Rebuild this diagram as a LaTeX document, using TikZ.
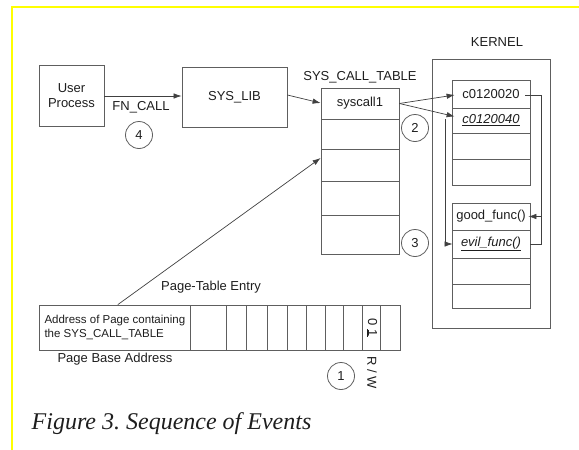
\documentclass[tikz,border=0pt]{standalone}
\usepackage{fontspec}
\setmainfont{Liberation Sans}
\newfontfamily\captionfont{Liberation Serif}
\usetikzlibrary{arrows.meta}
\frenchspacing
\definecolor{linegray}{HTML}{5E5E5E}
\definecolor{inkblack}{HTML}{1E1E1E}
\definecolor{frameyellow}{HTML}{FFFF00}
\tikzset{
	box/.style={draw=linegray,line width=0.8pt,inner sep=0pt,text=inkblack,font=\fontsize{13}{15}\selectfont},
	cell/.style={box,minimum width=78pt},
	tag/.style={inner sep=0pt,text=inkblack,font=\fontsize{13}{15}\selectfont},
	stepnum/.style={circle,draw=linegray,line width=0.8pt,minimum size=27pt,inner sep=0pt,text=inkblack,font=\fontsize{13}{15}\selectfont},
	link/.style={draw=inkblack!85,line width=0.7pt,-{Latex[length=8pt,width=5.5pt]}},
	wire/.style={draw=inkblack!85,line width=0.7pt}
}

\begin{document}
\begin{tikzpicture}[x=1pt,y=-1pt]
	\useasboundingbox (0,0) rectangle (579,450);
	\draw[frameyellow,line width=2.4pt] (12,450) -- (12,7) -- (579,7);

	% user side
	\node[box,minimum width=65pt,minimum height=61pt,align=center] (user) at (71.5,95.5) {User\\Process};
	\node[box,minimum width=105pt,minimum height=60pt] (syslib) at (234.5,97) {SYS\_LIB};
	\draw[link] (user.east |- 0,96) -- (syslib.west |- 0,96);
	\node[tag] (fncall) at (141,107) {FN\_CALL};
	\node[stepnum] (step4) at (139,135) {4};

	% system call table
	\node[tag] (sctlabel) at (360,77) {SYS\_CALL\_TABLE};
	\node[cell,minimum height=31pt] (sct1) at (360,103.5) {syscall1};
	\node[cell,minimum height=30pt] (sct2) at (360,134) {};
	\node[cell,minimum height=32pt] (sct3) at (360,165) {};
	\node[cell,minimum height=34pt] (sct4) at (360,198) {};
	\node[cell,minimum height=39pt] (sct5) at (360,234.5) {};
	\draw[link] (syslib.east |- 0,95) -- ([yshift=0.5pt]sct1.west);

	% kernel memory
	\node[box,minimum width=118pt,minimum height=269pt] (kernel) at (491,193.5) {};
	\node[tag] (kernlabel) at (497,42) {KERNEL};
	\node[cell,minimum height=28pt] (ka1) at (491,94) {c0120020};
	\node[cell,minimum height=25pt] (ka2) at (491,120.5) {\itshape\underline{c0120040}};
	\node[cell,minimum height=26pt] (ka3) at (491,146) {};
	\node[cell,minimum height=26pt] (ka4) at (491,172) {};
	\node[cell,minimum height=27pt] (kb1) at (491,216.5) {good\_func()};
	\node[cell,minimum height=28pt] (kb2) at (491,244) {\itshape\underline{evil\_func()}};
	\node[cell,minimum height=26pt] (kb3) at (491,271) {};
	\node[cell,minimum height=24pt] (kb4) at (491,296) {};

	\draw[link] (sct1.east) -- ([xshift=3pt,yshift=-1pt]ka1.west);
	\draw[link] (sct1.east) -- ([xshift=3pt,yshift=4pt]ka2.west);
	\coordinate (hook) at (541,216.5);
	\draw[wire] (kb2.east) -| (hook);
	\draw[link] ([xshift=-5pt,yshift=-1pt]ka1.east) -| (hook) -- ([xshift=-2pt]kb1.east);
	\draw[link] (445,119) |- ([xshift=1pt]kb2.west);

	\node[stepnum] (step2) at (415,128) {2};
	\node[stepnum] (step3) at (415,243) {3};

	% page table entry
	\node[box,minimum width=151.7pt,minimum height=45pt,font=\fontsize{11.5}{14}\selectfont,align=left] (pte1) at (114.85,327.5) {Address of Page containing\\the SYS\_CALL\_TABLE};
	\foreach \l/\r [count=\i from 2] in {190.7/226,226/246.7,246.7/267.3,267.3/287.7,287.7/306.7,306.7/325.3,325.3/343.3,343.3/362.7,362.7/380.7,380.7/400}
		\node[box,minimum width={(\r-\l)*1pt},minimum height=45pt] (pte\i) at ({(\l+\r)/2},327.5) {};
	\node[tag,rotate=-90] (rwbits) at (pte10.center) {0 \underline{1}};
	\node[tag,rotate=-90] (rwlabel) at (372,373) {R / W};
	\node[tag] (ptelabel) at (211,287) {Page-Table Entry};
	\node[tag] (baselabel) at (115,359) {Page Base Address};
	\node[stepnum] (step1) at (341,376) {1};
	\draw[link] ([xshift=3pt]pte1.north) -- ([yshift=7pt]sct3.west);

	\node[anchor=west,inner sep=0pt,text=inkblack,font=\captionfont\itshape\fontsize{24}{28}\selectfont] (caption) at (31.5,424) {Figure 3. Sequence of Events};
\end{tikzpicture}
\end{document}
